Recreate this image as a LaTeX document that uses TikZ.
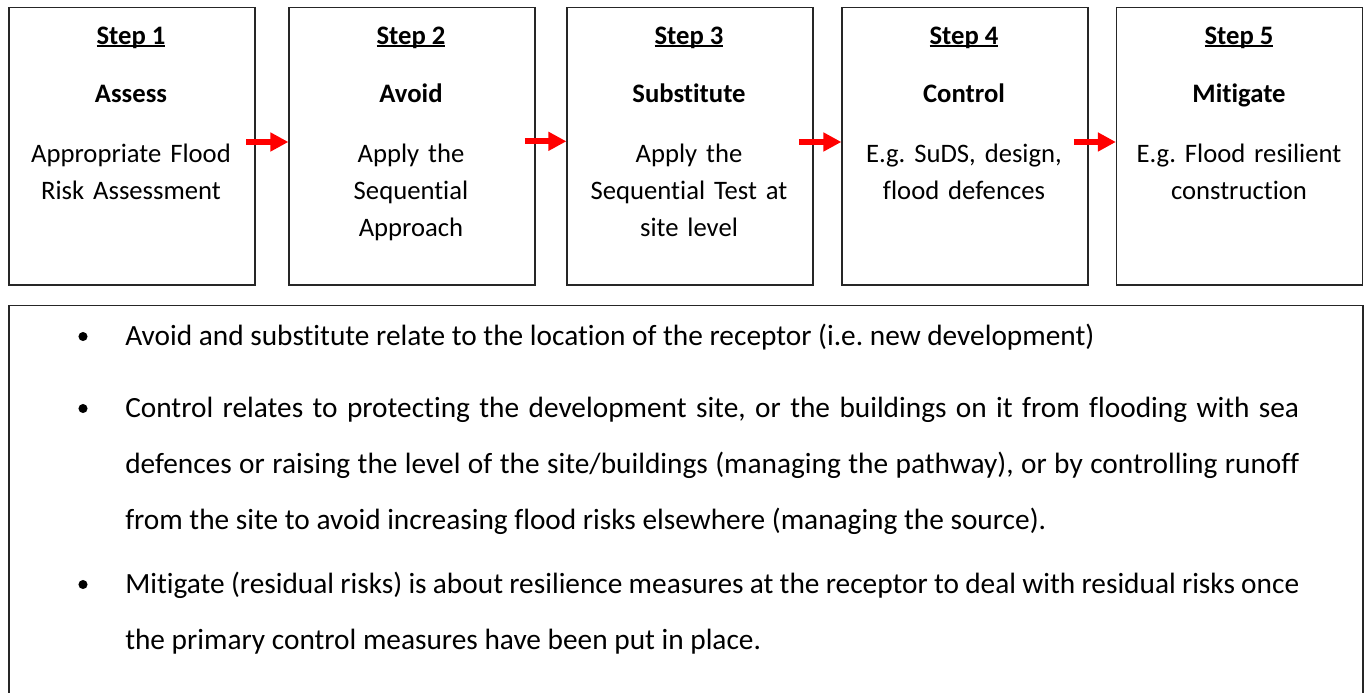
\documentclass[tikz,border=0pt]{standalone}
\usepackage{fontspec}
\setmainfont{Carlito}[Ligatures=NoCommon]
\usetikzlibrary{arrows.meta}
\frenchspacing

% underline that sits just under the baseline, as in the word processor
\newcommand{\stepul}[1]{\setbox0\hbox{#1}\rlap{\rule[-2.25pt]{\wd0}{1.4pt}}\box0}
% one full, justified line of the note
\newcommand{\fullline}[1]{\makebox[880.5pt][s]{#1}}

\tikzset{
  stepbox/.style={draw=black!85, line width=0.9pt, minimum width=184.5pt, minimum height=208pt, inner sep=0pt},
  steplbl/.style={font=\fontsize{20pt}{24pt}\selectfont\bfseries, anchor=base, inner sep=0pt},
  stepbody/.style={font=\fontsize{20pt}{27.75pt}\selectfont, text width=180pt, align=center, anchor=base, inner sep=0pt},
  flowarrow/.style={draw=red, line width=4.5pt, -{Triangle[length=13.5pt,width=13.5pt]}},
  noteline/.style={font=\fontsize{22pt}{26pt}\selectfont, anchor=base west, inner sep=0pt},
  notedot/.style={fill=black},
}

\begin{document}
\begin{tikzpicture}[x=0.75pt, y=-0.75pt]
  \useasboundingbox (0,0) rectangle (1365,693);

  % 1. the five step boxes
  \node[stepbox] (s1) at (132,146.25) {};
  \node[stepbox] (s2) at (412,146.25) {};
  \node[stepbox] (s3) at (690,146.25) {};
  \node[stepbox] (s4) at (965,146.25) {};
  \node[stepbox] (s5) at (1239.5,146.25) {};

  % 2. step numbers, titles and short texts
  \node[steplbl] (n1) at (131,44) {\stepul{Step 1}};
  \node[steplbl] (h1) at (131,102) {Assess};
  \node[stepbody] (b1) at (131,162) {Appropriate Flood\\Risk Assessment};

  \node[steplbl] (n2) at (411,44) {\stepul{Step 2}};
  \node[steplbl] (h2) at (411,102) {Avoid};
  \node[stepbody] (b2) at (411,162) {Apply the\\Sequential\\Approach};

  \node[steplbl] (n3) at (689,44) {\stepul{Step 3}};
  \node[steplbl] (h3) at (689,102) {Substitute};
  \node[stepbody] (b3) at (689,162) {Apply the\\Sequential Test at\\site level};

  \node[steplbl] (n4) at (964,44) {\stepul{Step 4}};
  \node[steplbl] (h4) at (964,102) {Control};
  \node[stepbody] (b4) at (964,162) {E.g. SuDS, design,\\flood defences};

  \node[steplbl] (n5) at (1239,44) {\stepul{Step 5}};
  \node[steplbl] (h5) at (1239,102) {Mitigate};
  \node[stepbody] (b5) at (1239,162) {E.g. Flood resilient\\construction};

  % 3. red arrows between the boxes
  \draw[flowarrow] ([xshift=-7pt,yshift=3.2pt]s1.east) -- ([yshift=3.2pt]s2.west);
  \draw[flowarrow] ([xshift=-8pt,yshift=3.7pt]s2.east) -- ([yshift=3.7pt]s3.west);
  \draw[flowarrow] ([xshift=-11pt,yshift=3.2pt]s3.east) -- ([yshift=3.2pt]s4.west);
  \draw[flowarrow] ([xshift=-11pt,yshift=3.2pt]s4.east) -- ([yshift=3.2pt]s5.west);

  % 4. note box (runs off the bottom edge)
  \draw[draw=black!85, line width=0.9pt] (9,700) -- (9,305.5) -- (1363,305.5) -- (1363,700);

  \fill[notedot] (83,336.5) circle[radius=3.4pt];
  \fill[notedot] (83,408.5) circle[radius=3.4pt];
  \fill[notedot] (83,584.5) circle[radius=3.4pt];

  \node[noteline] (l1) at (125,345) {Avoid and substitute relate to the location of the receptor (i.e. new development)};
  \node[noteline] (l2) at (125,417) {\fullline{Control relates to protecting the development site, or the buildings on it from flooding with sea}};
  \node[noteline] (l3) at (125,473) {\fullline{defences or raising the level of the site/buildings (managing the pathway), or by controlling runoff}};
  \node[noteline] (l4) at (125,529) {from the site to avoid increasing flood risks elsewhere (managing the source).};
  \node[noteline] (l5) at (125,593) {\fullline{Mitigate (residual risks) is about resilience measures at the receptor to deal with residual risks once}};
  \node[noteline] (l6) at (125,649) {the primary control measures have been put in place.};
\end{tikzpicture}
\end{document}
